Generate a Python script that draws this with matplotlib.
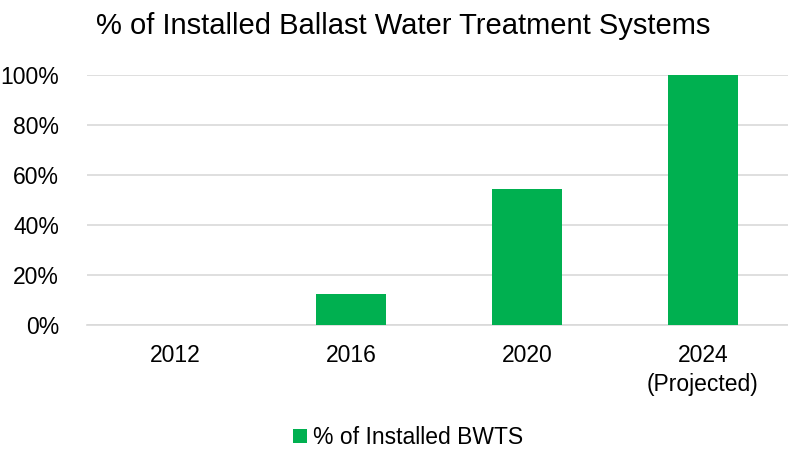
import matplotlib
matplotlib.use("Agg")
import matplotlib.pyplot as plt
from matplotlib.ticker import FuncFormatter

plt.rcParams['font.family'] = ['Liberation Sans', 'DejaVu Sans']

categories = ["2012", "2016", "2020", "2024\n(Projected)"]
values = [0.0, 12.3, 54.5, 100.0]
series_name = "% of Installed BWTS"
title = "% of Installed Ballast Water Treatment Systems"
yticks = [0, 20, 40, 60, 80, 100]

fig = plt.figure(figsize=(7.88, 4.55), dpi=100)
ax = fig.add_axes([0.1104, 0.2857, 0.8934, 0.5495])

x = range(len(categories))
ax.bar(x, values, width=0.4, color="#00b050", label=series_name, zorder=3)
ax.set_xlim(-0.5, len(categories) - 0.5)
ax.set_ylim(0, 100)
ax.set_yticks(yticks)
ax.yaxis.set_major_formatter(FuncFormatter(lambda v, p: f"{int(v)}%"))
ax.set_xticks(list(x))
ax.set_xticklabels(categories, fontsize=16.5, linespacing=1.3)
ax.tick_params(axis='y', labelsize=16.5, length=0, pad=20)
ax.tick_params(axis='x', length=0, pad=14)
ax.grid(axis='y', color="#d9d9d9", linewidth=1.2, zorder=0)
for s in ["top", "right", "left"]:
    ax.spines[s].set_visible(False)
ax.spines["bottom"].set_color("#d9d9d9")
ax.spines["bottom"].set_linewidth(1.2)

fig.text(0.122, 0.942, title, fontsize=21, ha='left', va='center')

leg = fig.legend(loc='center', bbox_to_anchor=(0.518, 0.038), frameon=False,
                 fontsize=16.5, handlelength=0.6, handleheight=0.6, handletextpad=0.3)

fig.savefig("out.png", dpi=100)
